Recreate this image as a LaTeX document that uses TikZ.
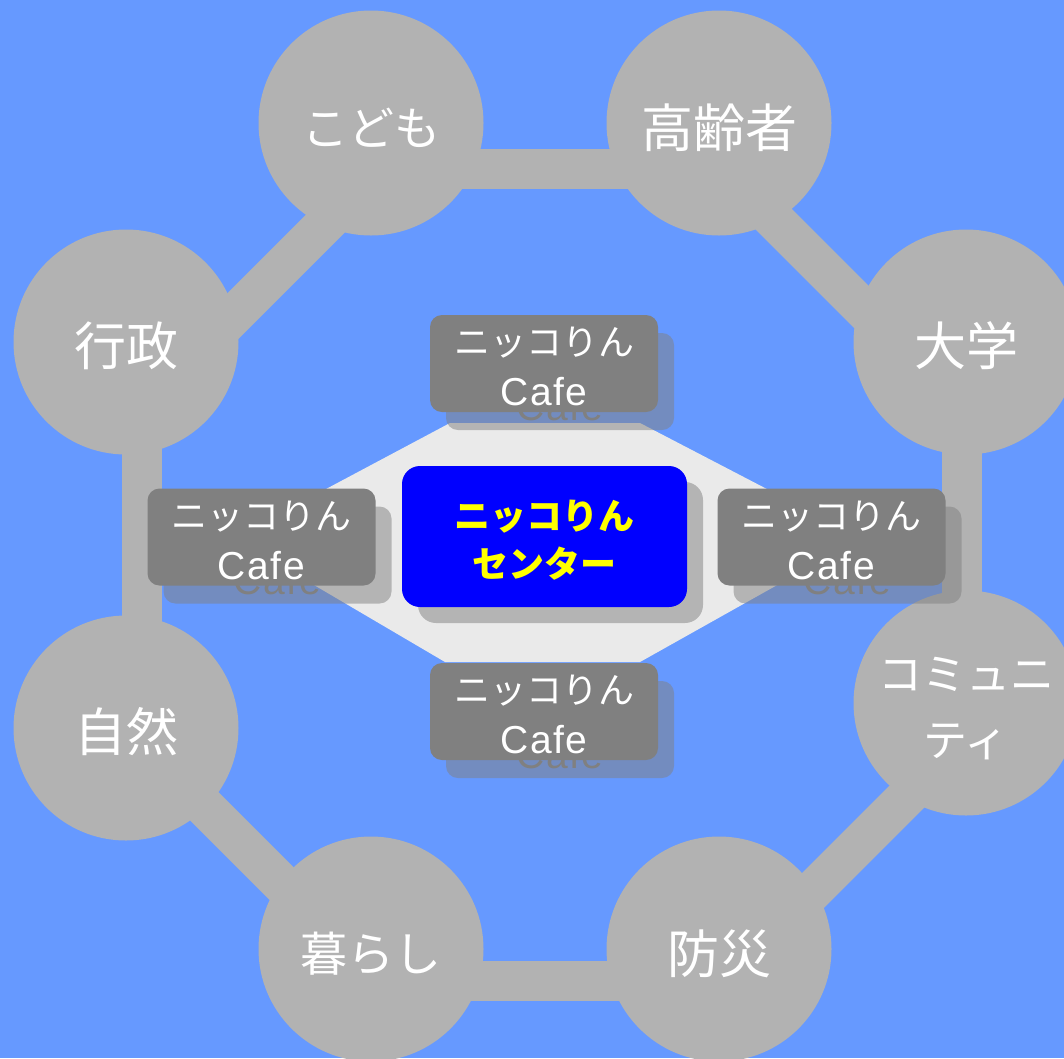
\documentclass[tikz,border=0pt]{standalone}
\usepackage{fontspec}
\newfontfamily\jp{Noto Sans CJK JP}
\newfontfamily\lat[LetterSpace=4]{Liberation Sans}
\usetikzlibrary{calc}
\definecolor{bgblue}{HTML}{6699FF}
\definecolor{ringgray}{HTML}{B2B2B2}
\definecolor{hexgray}{HTML}{EAEAEA}
\definecolor{cafegray}{HTML}{808080}
\definecolor{centerblue}{HTML}{0000FF}
\definecolor{centeryellow}{HTML}{FFFF00}
\pgfdeclarelayer{bglayer}
\pgfdeclarelayer{barlayer}
\pgfsetlayers{bglayer,barlayer,main}
\newcommand{\cafetext}{{\jp ニッコりん}\\{\lat\fontsize{39}{50}\selectfont Cafe}}
\begin{document}
\begin{tikzpicture}[x=1pt,y=-1pt,
  topic/.style={circle, fill=ringgray, minimum size=225pt, inner sep=0pt},
  topiclabel/.style={inner sep=0pt, text=white, align=center,
    font=\jp\fontsize{52}{66}\selectfont},
  kanalabel/.style={topiclabel, font=\jp\fontsize{46}{66}\selectfont},
  bar/.style={draw=ringgray, line width=40pt},
  cafebox/.style={rounded corners=12pt, fill=cafegray, minimum width=228pt,
    minimum height=97pt, inner sep=0pt},
  cafelabel/.style={inner sep=0pt, text=white, align=center,
    font=\fontsize{36}{50}\selectfont},
  cafeshadow/.style={cafebox, fill=gray, fill opacity=0.5, text=cafegray, text opacity=1,
    align=center, font=\fontsize{36}{50}\selectfont},
  centerbox/.style={rounded corners=18pt, fill=centerblue, minimum width=285pt,
    minimum height=141pt, inner sep=0pt},
  centershadow/.style={centerbox, fill=gray, fill opacity=0.5},
  centerlabel/.style={inner sep=0pt, text=centeryellow, align=center,
    font=\jp\bfseries\fontsize{36}{48}\selectfont}
]
\useasboundingbox (0,0) rectangle (1064,1058);
\begin{pgfonlayer}{bglayer}
\fill[bgblue] (0,0) rectangle (1064,1058);
\end{pgfonlayer}

% topic circles
\node[topic] (kodomo)    at (371,123) {};
\node[topic] (koreisha)  at (719,123) {};
\node[topic] (daigaku)   at (966,342) {};
\node[topic] (community) at (966,703) {};
\node[topic] (bousai)    at (719,949) {};
\node[topic] (kurashi)   at (371,949) {};
\node[topic] (shizen)    at (126,728) {};
\node[topic] (gyousei)   at (126,342) {};

\node[kanalabel]  (kodomoL)    at ($(kodomo.center)+(0,5)$) {こども};
\node[topiclabel] (koreishaL)  at ($(koreisha.center)+(0,5)$) {高齢者};
\node[topiclabel] (daigakuL)   at ($(daigaku.center)+(0,4)$) {大学};
\node[kanalabel, font=\jp\fontsize{44}{66}\selectfont] (communityL) at ($(community.center)+(0,6)$) {コミュニ\\ティ};
\node[topiclabel] (bousaiL)    at ($(bousai.center)+(0,5)$) {防災};
\node[kanalabel, font=\jp\fontsize{47}{66}\selectfont] (kurashiL) at ($(kurashi.center)+(0,5)$) {暮らし};
\node[topiclabel] (shizenL)    at ($(shizen.center)+(0,4)$) {自然};
\node[topiclabel] (gyouseiL)   at ($(gyousei.center)+(0,4)$) {行政};

% connecting bars
\begin{pgfonlayer}{barlayer}
\draw[bar] ($(kodomo.center)+(0,45.5)$) -- ($(koreisha.center)+(0,45.5)$);
\draw[bar] ($(koreisha.center)+(0,41.5)$) -- ($(daigaku.center)+(0,69.5)$);
\draw[bar] ($(daigaku.center)+(-4,0)$) -- ($(community.center)+(-4,0)$);
\draw[bar] ($(community.center)+(0,34.5)$) -- ($(bousai.center)+(0,35.5)$);
\draw[bar] ($(bousai.center)+(0,32)$) -- ($(kurashi.center)+(0,32)$);
\draw[bar] ($(kurashi.center)+(0,24)$) -- (shizen.center);
\draw[bar] ($(shizen.center)+(16,0)$) -- ($(gyousei.center)+(16,0)$);
\draw[bar] ($(gyousei.center)+(0,81)$) -- ($(kodomo.center)+(0,55)$);
\end{pgfonlayer}

% central light area
\fill[hexgray] (450,423) -- (640,423) -- (861,538) -- (640,662) -- (445,662) -- (234,538) -- cycle;

% center box
\node[centershadow] (centerS) at (560.5,552.5) {};
\node[centerbox] (center) at (544.5,536.5) {};
\node[centerlabel] (centerL) at ($(center.center)+(0,4)$) {ニッコりん\\センター};

% cafe boxes with shadows
\node[cafeshadow] (cafeTs) at (560,381.5) {\cafetext};
\node[cafebox] (cafeT) at (544,363.5) {};
\node[cafelabel] (cafeTL) at ($(cafeT.center)+(0,3)$) {\cafetext};
\node[cafeshadow] (cafeLs) at (277.5,555) {\cafetext};
\node[cafebox] (cafeL) at (261.5,537) {};
\node[cafelabel] (cafeLL) at ($(cafeL.center)+(0,3)$) {\cafetext};
\node[cafeshadow] (cafeRs) at (847.5,555) {\cafetext};
\node[cafebox] (cafeR) at (831.5,537) {};
\node[cafelabel] (cafeRL) at ($(cafeR.center)+(0,3)$) {\cafetext};
\node[cafeshadow] (cafeBs) at (560,729.5) {\cafetext};
\node[cafebox] (cafeB) at (544,711.5) {};
\node[cafelabel] (cafeBL) at ($(cafeB.center)+(0,3)$) {\cafetext};
\end{tikzpicture}
\end{document}
